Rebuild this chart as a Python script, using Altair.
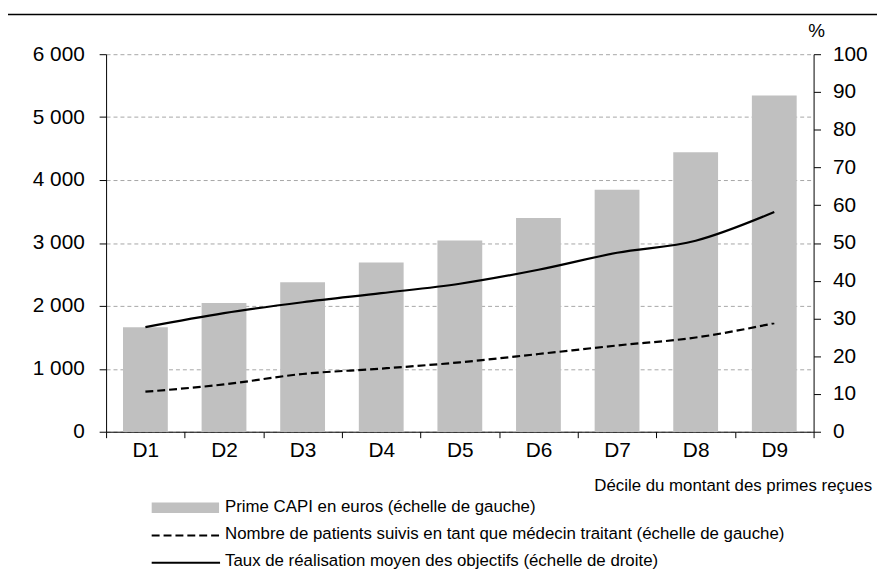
import altair as alt
import pandas as pd

# ---- data ----
deciles = ["D1", "D2", "D3", "D4", "D5", "D6", "D7", "D8", "D9"]
prime_capi = [1660, 2045, 2375, 2690, 3040, 3395, 3845, 4440, 5345]
patients_mt = [636, 752, 918, 1003, 1103, 1235, 1371, 1497, 1724]
taux_realisation = [27.7, 31.4, 34.3, 36.7, 39.2, 42.9, 47.4, 50.6, 58.2]

left_ticks = [0, 1000, 2000, 3000, 4000, 5000, 6000]
right_ticks = [0, 10, 20, 30, 40, 50, 60, 70, 80, 90, 100]

legend_labels = [
    "Prime CAPI en euros (échelle de gauche)",
    "Nombre de patients suivis en tant que médecin traitant (échelle de gauche)",
    "Taux de réalisation moyen des objectifs (échelle de droite)",
]
x_title = "Décile du montant des primes reçues"
right_unit = "%"

FONT = "Liberation Sans"
GREY = "#c0c0c0"
AXIS_FS = 21

df = pd.DataFrame({
    "decile": deciles,
    "prime": prime_capi,
    "patients": patients_mt,
    "taux": taux_realisation,
})

x_enc = alt.X(
    "decile:N", sort=deciles, title=None,
    scale=alt.Scale(paddingInner=0, paddingOuter=0),
    axis=alt.Axis(tickBand="extent", labelAngle=0, domainColor="black",
                  tickColor="black", tickSize=6, labelFontSize=AXIS_FS,
                  labelPadding=2, labelColor="black", labelFont=FONT),
)

left_axis = alt.Axis(
    orient="left", values=left_ticks,
    labelExpr="replace(format(datum.value, ','), ',', ' ')",
    grid=True, gridDash=[4, 3], gridColor="#a6a6a6", gridWidth=1,
    domainColor="black", tickColor="black", tickSize=7,
    labelPadding=15, labelFontSize=AXIS_FS, labelColor="black", labelFont=FONT,
)
left_scale = alt.Scale(domain=[0, 6000], nice=False)

bars = alt.Chart(df).mark_bar(color=GREY, width=alt.RelativeBandSize(0.57)).encode(
    x=x_enc,
    y=alt.Y("prime:Q", scale=left_scale, axis=left_axis, title=None),
)

dashed = alt.Chart(df).mark_line(
    color="black", strokeDash=[8, 4], strokeWidth=2.2, interpolate="monotone"
).encode(
    x=x_enc,
    y=alt.Y("patients:Q", scale=left_scale, axis=left_axis, title=None),
)

solid = alt.Chart(df).mark_line(
    color="black", strokeWidth=2.2, interpolate="monotone"
).encode(
    x=x_enc,
    y=alt.Y("taux:Q", scale=alt.Scale(domain=[0, 100], nice=False), title=None,
            axis=alt.Axis(orient="right", values=right_ticks, grid=False,
                          domainColor="black", tickColor="black", tickSize=7,
                          labelPadding=12, labelFontSize=AXIS_FS, labelColor="black",
                          labelFont=FONT)),
)

one = pd.DataFrame({"k": [0]})


def text_layer(txt, xv, yv, align="left", size=17):
    return alt.Chart(pd.DataFrame({"t": [txt]})).mark_text(
        align=align, baseline="alphabetic", fontSize=size, font=FONT, color="black"
    ).encode(x=alt.value(xv), y=alt.value(yv), text="t:N")


frame_top = alt.Chart(one).mark_rule(color="black", strokeWidth=1.5).encode(
    x=alt.value(-106.5), x2=alt.value(780), y=alt.value(-40))
frame_left = alt.Chart(one).mark_rule(color="black", strokeWidth=1.5).encode(
    x=alt.value(-106.5), y=alt.value(-40), y2=alt.value(620))

leg_swatch = alt.Chart(one).mark_rect(color=GREY).encode(
    x=alt.value(46), x2=alt.value(114), y=alt.value(452.3), y2=alt.value(463))
leg_dash = alt.Chart(one).mark_rule(color="black", strokeWidth=2.2, strokeDash=[8, 4]).encode(
    x=alt.value(46), x2=alt.value(115), y=alt.value(485.7))
leg_solid = alt.Chart(one).mark_rule(color="black", strokeWidth=2.2).encode(
    x=alt.value(46), x2=alt.value(115), y=alt.value(513.2))

decor = [
    frame_top, frame_left, leg_swatch, leg_dash, leg_solid,
    text_layer(legend_labels[0], 120, 462.3),
    text_layer(legend_labels[1], 120, 489.7),
    text_layer(legend_labels[2], 120, 517),
    text_layer(x_title, 773, 441, align="right"),
    text_layer(right_unit, 717, -17, align="center", size=19),
]

chart = alt.layer(alt.layer(bars, dashed), solid, *decor).resolve_scale(
    y="independent"
).properties(
    width=714, height=381,
    autosize=alt.AutoSizeParams(type="none"),
    padding={"left": 99, "top": 44, "right": 64, "bottom": 146},
).configure_view(stroke=None)

chart.save("out.html", embed_options={"renderer": "svg", "actions": False})
